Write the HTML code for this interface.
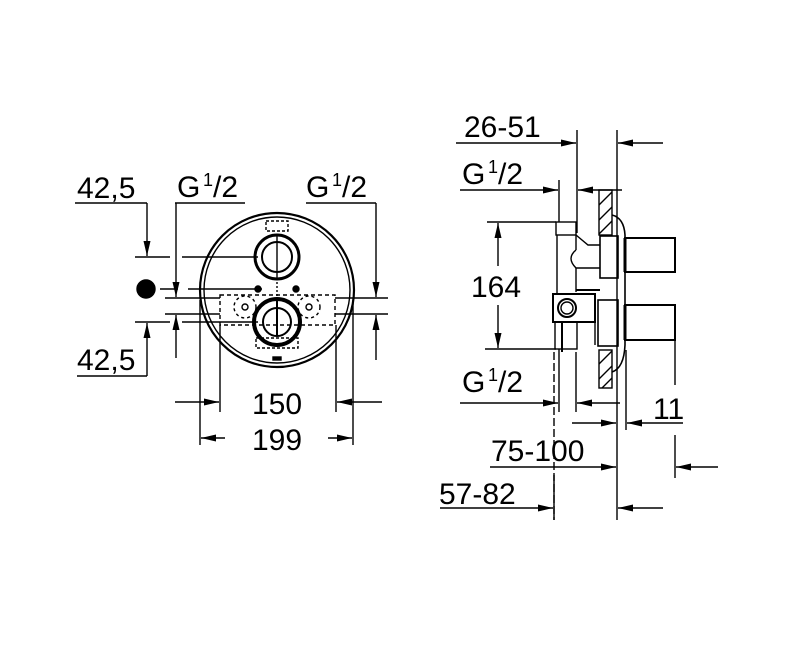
<!DOCTYPE html>
<html><head><meta charset="utf-8"><style>
html,body{margin:0;padding:0;background:#fff;}
svg{display:block;}
text{font-family:"Liberation Sans",Arial,sans-serif;fill:#000;}
</style></head><body>
<svg width="800" height="664" viewBox="0 0 800 664" xmlns="http://www.w3.org/2000/svg">
<defs>
<marker id="a" viewBox="0 0 15 7" refX="15" refY="3.5" markerWidth="15" markerHeight="7" markerUnits="userSpaceOnUse" orient="auto"><path d="M0,0 L15,3.5 L0,7 z" fill="#000"/></marker>
</defs>
<g stroke="#000" stroke-width="1.4" fill="none">
<!-- LEFT VIEW -->
<line x1="75" y1="203" x2="147" y2="203"/>
<line x1="147" y1="203" x2="147" y2="256" marker-end="url(#a)"/>
<line x1="135" y1="257" x2="170" y2="257"/>
<line x1="182" y1="257" x2="258" y2="257"/>
<circle cx="146" cy="289" r="9" fill="#000"/>
<line x1="160" y1="289" x2="178" y2="289"/>
<line x1="188" y1="289" x2="262" y2="289"/>
<line x1="135" y1="322" x2="170" y2="322"/>
<line x1="182" y1="322" x2="258" y2="322"/>
<line x1="147" y1="376" x2="147" y2="323" marker-end="url(#a)"/>
<line x1="77" y1="376" x2="147" y2="376"/>
<line x1="175" y1="203" x2="245" y2="203"/>
<line x1="176" y1="203" x2="176" y2="297" marker-end="url(#a)"/>
<line x1="165" y1="298" x2="220" y2="298"/>
<line x1="165" y1="314" x2="220" y2="314"/>
<line x1="176" y1="358" x2="176" y2="315" marker-end="url(#a)"/>
<line x1="306" y1="203" x2="376" y2="203"/>
<line x1="376" y1="203" x2="376" y2="297" marker-end="url(#a)"/>
<line x1="335" y1="298" x2="388" y2="298"/>
<line x1="335" y1="314" x2="388" y2="314"/>
<line x1="376" y1="360" x2="376" y2="315" marker-end="url(#a)"/>
<circle cx="277" cy="290" r="77" stroke-width="2.2"/>
<circle cx="277" cy="290" r="73"/>
<rect x="220" y="295" width="115" height="30" stroke-dasharray="4,3"/>
<circle cx="245" cy="307" r="11" stroke-dasharray="3,3"/>
<circle cx="309" cy="307" r="11" stroke-dasharray="3,3"/>
<circle cx="245" cy="307" r="3"/>
<circle cx="309" cy="307" r="3"/>
<circle cx="258" cy="289" r="3" fill="#000"/>
<circle cx="296" cy="289" r="3" fill="#000"/>
<rect x="266" y="221" width="22" height="10" stroke-dasharray="3,2"/>
<rect x="256" y="338" width="42" height="10" stroke-dasharray="3,2"/>
<circle cx="277" cy="257" r="22" stroke-width="3"/>
<circle cx="277" cy="257" r="15" stroke-width="2"/>
<circle cx="277" cy="322" r="23" stroke-width="4"/>
<circle cx="277" cy="322" r="14" stroke-width="2"/>
<line x1="277" y1="235" x2="277" y2="278"/>
<line x1="277" y1="298" x2="277" y2="335" stroke-width="2"/>
<line x1="277" y1="278" x2="277" y2="298" stroke-dasharray="2,2"/>
<rect x="273" y="357" width="8" height="3" fill="#000"/>
<line x1="200" y1="300" x2="200" y2="445"/>
<line x1="220" y1="325" x2="220" y2="412"/>
<line x1="336" y1="325" x2="336" y2="412"/>
<line x1="353" y1="300" x2="353" y2="445"/>
<line x1="175" y1="402" x2="219" y2="402" marker-end="url(#a)"/>
<line x1="382" y1="402" x2="337" y2="402" marker-end="url(#a)"/>
<line x1="225" y1="438" x2="201" y2="438" marker-end="url(#a)"/>
<line x1="328" y1="438" x2="352" y2="438" marker-end="url(#a)"/>

<!-- RIGHT VIEW -->
<line x1="456" y1="143" x2="576" y2="143" marker-end="url(#a)"/>
<line x1="577" y1="130" x2="577" y2="233"/>
<line x1="617" y1="130" x2="617" y2="520"/>
<line x1="663" y1="143" x2="618" y2="143" marker-end="url(#a)"/>
<line x1="460" y1="190" x2="558" y2="190" marker-end="url(#a)"/>
<line x1="559" y1="180" x2="559" y2="222"/>
<line x1="600" y1="190" x2="578" y2="190" marker-end="url(#a)"/>
<line x1="600" y1="190" x2="622" y2="190"/>
<line x1="487" y1="222" x2="556" y2="222"/>
<line x1="485" y1="349" x2="556" y2="349"/>
<line x1="498" y1="266" x2="498" y2="223" marker-end="url(#a)"/>
<line x1="498" y1="305" x2="498" y2="348" marker-end="url(#a)"/>
<rect x="599" y="190" width="13" height="45"/>
<rect x="599" y="350" width="13" height="38"/>
<path d="M599,205 L612,192 M599,220 L612,207 M599,234 L612,221 M599,364 L612,351 M599,379 L612,366 M602,388 L612,378"/>
<path d="M612,215 Q624,218 625,235 L625,345 Q624,368 612,372" stroke-width="1.6"/>
<rect x="556" y="222" width="20" height="13"/>
<line x1="557" y1="235" x2="557" y2="294"/>
<line x1="576" y1="235" x2="576" y2="250"/>
<path d="M576,235 L588,245 L600,245 M576,250 Q566,258 576,268 L600,268"/>
<line x1="576" y1="268" x2="576" y2="292"/>
<rect x="600" y="236" width="18" height="42" stroke-width="1.6"/>
<line x1="576" y1="290" x2="600" y2="290" stroke-width="2"/>
<rect x="553" y="294" width="42" height="28" stroke-width="2"/>
<circle cx="567" cy="308" r="9" stroke-width="2"/>
<circle cx="567" cy="308" r="6"/>
<rect x="555" y="322" width="22" height="27"/>
<line x1="562" y1="322" x2="562" y2="352" stroke-width="2"/>
<rect x="598" y="300" width="20" height="46" stroke-width="1.6"/>
<line x1="595" y1="294" x2="595" y2="345"/>
<rect x="625" y="238" width="50" height="34" stroke-width="2"/>
<rect x="625" y="305" width="50" height="35" stroke-width="2"/>
<line x1="625" y1="238" x2="625" y2="272" stroke-width="3"/>
<line x1="625" y1="305" x2="625" y2="340" stroke-width="3"/>
<line x1="460" y1="403" x2="558" y2="403" marker-end="url(#a)"/>
<line x1="559" y1="349" x2="559" y2="412"/>
<line x1="576" y1="352" x2="576" y2="412"/>
<line x1="620" y1="403" x2="577" y2="403" marker-end="url(#a)"/>
<line x1="572" y1="423" x2="616" y2="423" marker-end="url(#a)"/>
<line x1="626" y1="350" x2="626" y2="430"/>
<line x1="683" y1="423" x2="627" y2="423" marker-end="url(#a)"/>
<line x1="675" y1="335" x2="675" y2="385"/>
<line x1="675" y1="435" x2="675" y2="478"/>
<line x1="490" y1="467" x2="616" y2="467" marker-end="url(#a)"/>
<line x1="718" y1="467" x2="676" y2="467" marker-end="url(#a)"/>
<line x1="440" y1="508" x2="553" y2="508" marker-end="url(#a)"/>
<line x1="554" y1="352" x2="554" y2="520" stroke-dasharray="8,3"/>
<line x1="554" y1="475" x2="554" y2="520"/>
<line x1="663" y1="508" x2="618" y2="508" marker-end="url(#a)"/>
</g>
<g font-size="30">
<text x="77" y="198">42,5</text>
<text x="77" y="370">42,5</text>
<text x="177" y="197">G</text><text x="203" y="186" font-size="18">1</text><text x="213" y="197">/2</text>
<text x="306" y="197">G</text><text x="332" y="186" font-size="18">1</text><text x="342" y="197">/2</text>
<text x="252" y="414">150</text>
<text x="252" y="450">199</text>
<text x="464" y="137">26-51</text>
<text x="462" y="184">G</text><text x="488" y="173" font-size="18">1</text><text x="498" y="184">/2</text>
<text x="471" y="297">164</text>
<text x="462" y="392">G</text><text x="488" y="381" font-size="18">1</text><text x="498" y="392">/2</text>
<text x="653" y="419">11</text>
<text x="491" y="461">75-100</text>
<text x="439" y="504">57-82</text>
</g>
</svg>
</body></html>
